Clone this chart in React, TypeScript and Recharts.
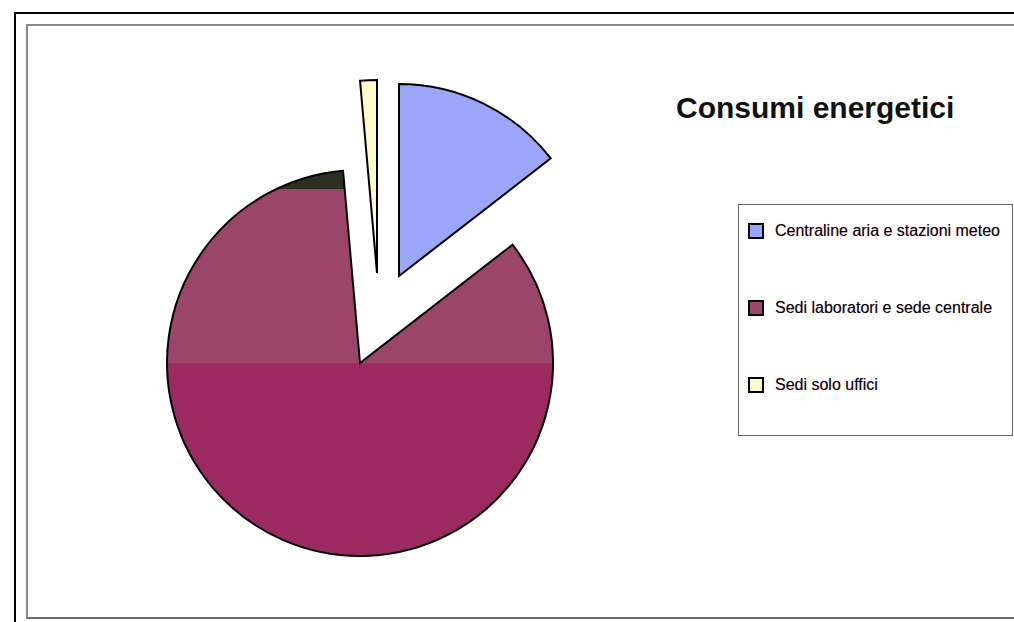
import React from 'react';
import { PieChart, Pie, Cell, Legend } from 'recharts';

const categories = ['Centraline aria e stazioni meteo', 'Sedi laboratori e sede centrale', 'Sedi solo uffici'];
const shares = [14.5, 84.1, 1.4];
const colors = ['#9aa6f8', '#9a2c62', '#fffccc'];

const data = categories.map((name, i) => ({ name, value: shares[i] }));

// each slice is drawn by its own Pie so it can sit at its own (exploded) centre
const slicePos = [
  { cx: 399, cy: 276, r: 192 },
  { cx: 360, cy: 363, r: 193 },
  { cx: 377, cy: 273, r: 193 },
];

const FONT = '"Liberation Sans", Arial, sans-serif';

const LegendBox = () => (
  <div
    style={{
      width: 275,
      height: 232,
      boxSizing: 'border-box',
      border: '1px solid #666',
      background: '#fff',
      paddingTop: 16,
      fontFamily: FONT,
      fontSize: 16,
      color: '#000',
    }}
  >
    {categories.map((name, i) => (
      <div key={name} style={{ display: 'flex', alignItems: 'center', height: 20, marginBottom: 57 }}>
        <span
          style={{
            display: 'inline-block',
            width: 16,
            height: 16,
            boxSizing: 'border-box',
            border: '2px solid #000',
            background: i === 1 ? '#9b4668' : colors[i],
            marginLeft: 9,
            marginRight: 11,
          }}
        />
        <span style={{ textShadow: '0 0 1px #d9a0c0' }}>{name}</span>
      </div>
    ))}
  </div>
);

export default function App() {
  return (
    <div style={{ position: 'absolute', left: 0, top: 0, width: 1014, height: 622, overflow: 'hidden', background: '#fff' }}>
      <div style={{ position: 'absolute', left: 14, top: 12, width: 1100, height: 700, borderTop: '2px solid #000', borderLeft: '2px solid #000' }} />
      <div
        style={{
          position: 'absolute',
          left: 26,
          top: 24,
          width: 1100,
          height: 591,
          borderTop: '2px solid #8a8a8a',
          borderLeft: '2px solid #8a8a8a',
          borderBottom: '2px solid #6a6a6a',
        }}
      />
      <div style={{ position: 'absolute', left: 0, top: 0 }}>
        <PieChart width={1014} height={622} margin={{ top: 0, right: 0, bottom: 0, left: 0 }}>
          <defs>
            <linearGradient id="sediFill" gradientUnits="userSpaceOnUse" x1="0" y1="170" x2="0" y2="556">
              <stop offset="0" stopColor="#2c2f20" />
              <stop offset="0.049" stopColor="#2c2f20" />
              <stop offset="0.049" stopColor="#9b4668" />
              <stop offset="0.5" stopColor="#9b4668" />
              <stop offset="0.5" stopColor="#9a2a60" />
              <stop offset="1" stopColor="#9a2a60" />
            </linearGradient>
          </defs>
          <text x={676} y={118} fontFamily={FONT} fontSize={30} fontWeight="bold" fill="#111">
            Consumi energetici
          </text>
          {slicePos.map((p, k) => (
            <Pie
              key={k}
              data={data}
              dataKey="value"
              nameKey="name"
              cx={p.cx}
              cy={p.cy}
              innerRadius={0}
              outerRadius={p.r}
              startAngle={90}
              endAngle={-270}
              isAnimationActive={false}
              legendType="none"
            >
              {data.map((d, i) =>
                i === k ? (
                  <Cell key={d.name} fill={k === 1 ? 'url(#sediFill)' : colors[i]} stroke="#000" strokeWidth={2} />
                ) : (
                  <Cell key={d.name} fill="none" stroke="none" />
                )
              )}
            </Pie>
          ))}
          <Legend
            layout="vertical"
            align="right"
            verticalAlign="middle"
            content={() => <LegendBox />}
            wrapperStyle={{ left: 738, top: 204, width: 275, height: 232 }}
          />
        </PieChart>
      </div>
    </div>
  );
}
